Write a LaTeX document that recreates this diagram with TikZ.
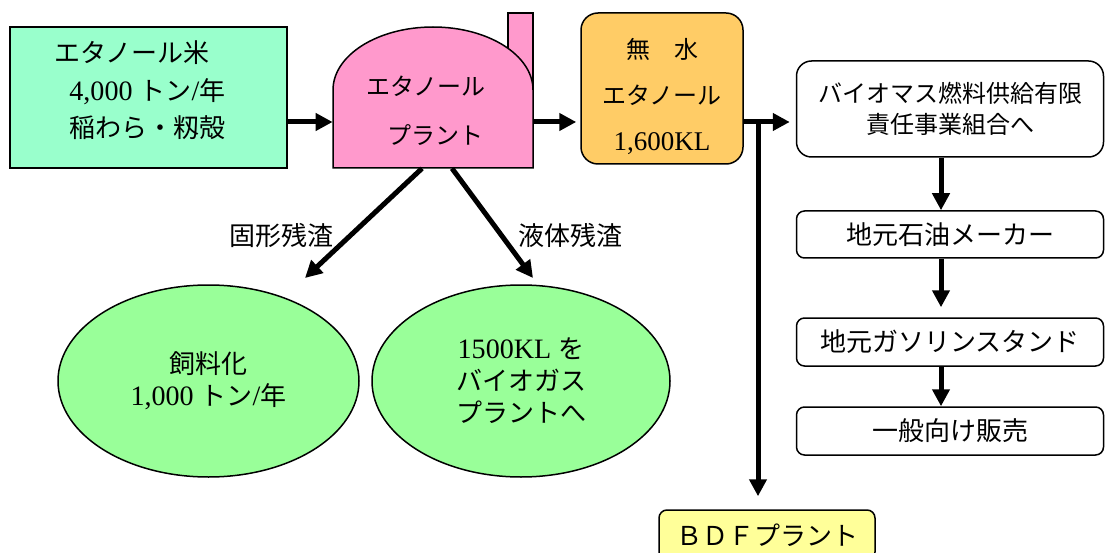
\documentclass[tikz,border=0pt]{standalone}
\usepackage{fontspec}
\setmainfont{Noto Sans CJK JP}
\newfontfamily\lat[Scale=1.08]{Liberation Serif}
\usetikzlibrary{arrows.meta, shapes.geometric}

\definecolor{ricegreen}{HTML}{99FFCC}
\definecolor{plantpink}{HTML}{FF99CC}
\definecolor{ethorange}{HTML}{FFCC66}
\definecolor{feedgreen}{HTML}{99FF99}
\definecolor{bdfyellow}{HTML}{FFFF99}

\begin{document}
\begin{tikzpicture}[x=1pt, y=-1pt, thick]

		\tikzstyle{box}=[rectangle, draw, line width=1.5pt, inner sep=0pt]
		\tikzstyle{flow}=[rectangle, rounded corners=8pt, draw, line width=1.5pt, fill=white, minimum width=307pt, minimum height=48pt, align=center, font=\fontsize{26}{32}\selectfont]
		\tikzstyle{waste}=[ellipse, draw, line width=1.5pt, fill=feedgreen, minimum height=192pt, inner sep=0pt, align=center, font=\fontsize{26}{32}\selectfont]
		\tikzstyle{txt}=[inner sep=0pt, align=center, font=\fontsize{26}{37.5}\selectfont]
		\tikzstyle{arr}=[line width=5pt, -{Triangle[length=17pt, width=17pt]}]

		\useasboundingbox (0,0) rectangle (1105,553);

		% Raw material
		\node[box, fill=ricegreen, minimum width=277pt, minimum height=141pt] (rice) at (148.5,97.5) {};
		\node[txt, align=left, anchor=west] (ricetxt) at (54,90.5) {エタノール米\\\hspace*{15pt}{\lat 4,000 }トン{\lat /}年\\\hspace*{15pt}稲わら・籾殻};

		% Ethanol plant
		\draw[fill=plantpink, line width=1.5pt] (508,13) rectangle (533,100);
		\draw[fill=plantpink, line width=1.5pt] (333,168) -- (333,90) arc[start angle=180, end angle=0, x radius=100pt, y radius=63pt] -- (533,168) -- cycle;
		\node[inner sep=0pt, minimum width=200pt, minimum height=141pt] (plant) at (433,97.5) {};
		\node[txt, align=left, anchor=west, font=\fontsize{24}{49}\selectfont] (planttxt) at (366,110.5) {エタノール\\\hspace*{21pt}プラント};

		% Product
		\node[box, rounded corners=17pt, fill=ethorange, minimum width=162pt, minimum height=151pt] (anhyd) at (662,88.5) {};
		\node[txt, font=\fontsize{24}{46}\selectfont] (anhydtxt) at (662,96) {無　水\\エタノール\\{\lat\fontsize{25}{46}\selectfont 1,600KL}};

		% Distribution
		\node[flow, rounded corners=15pt, minimum height=96pt, font=\fontsize{24}{31.5}\selectfont] (kumiai) at (950,109) {バイオマス燃料供給有限\\責任事業組合へ};
		\node[flow, minimum height=47pt] (oil) at (950,234.5) {地元石油メーカー};
		\node[flow] (gas) at (950,342) {地元ガソリンスタンド};
		\node[flow] (sales) at (950,431) {一般向け販売};
		\node[flow, fill=bdfyellow, minimum width=216pt, minimum height=50pt] (bdf) at (767,535) {ＢＤＦプラント};

		% Residues
		\node[waste, minimum width=301pt] (feed) at (208.5,381) {飼料化\\{\lat 1,000 }トン{\lat /}年};
		\node[waste, minimum width=298pt] (biogas) at (521,381) {{\lat 1500KL }を\\バイオガス\\プラントへ};
		\node[txt] (solidlbl) at (281.5,236) {固形残渣};
		\node[txt] (liquidlbl) at (570,236) {液体残渣};

		% Main flow
		\coordinate (mainline) at (0,122);
		\coordinate (branch) at (758,122);
		\coordinate (col) at (941,0);
		\draw[arr] (rice.east |- mainline) -- (plant.west |- mainline);
		\draw[arr, shorten >=4pt] (plant.east |- mainline) -- (anhyd.west |- mainline);
		\draw[arr, shorten >=6pt] (anhyd.east |- mainline) -- (kumiai.west |- mainline);
		\draw[arr, shorten >=13pt] (branch) -- (bdf.north -| branch);
		\draw[arr] (kumiai.south -| col) -- (oil.north -| col);
		\draw[arr, shorten >=10pt] (oil.south -| col) -- (gas.north -| col);
		\draw[arr] (gas.south -| col) -- (sales.north -| col);

		% Residue links
		\coordinate (solidtip) at (305,278);
		\coordinate (liquidtip) at (533,278);
		\draw[arr] ([xshift=-11pt]plant.south) -- (solidtip);
		\draw[arr] ([xshift=19pt]plant.south) -- (liquidtip);

\end{tikzpicture}
\end{document}
